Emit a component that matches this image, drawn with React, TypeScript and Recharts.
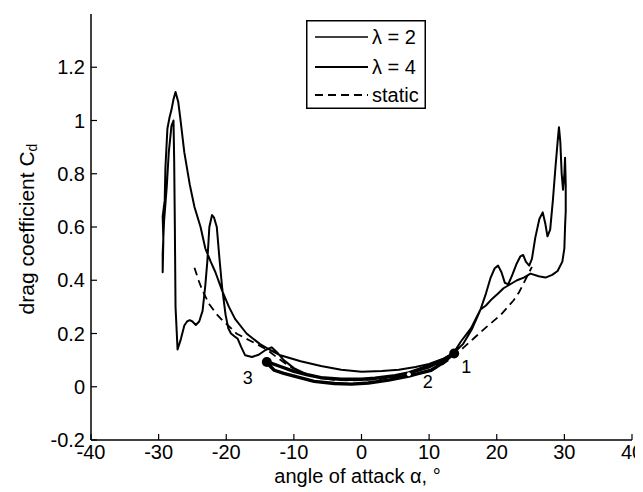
import { ComposedChart, Line, Scatter, XAxis, YAxis, Legend } from 'recharts'

const FONT = '"Liberation Sans", Arial, Helvetica, sans-serif'

const X_TICKS = [-40, -30, -20, -10, 0, 10, 20, 30, 40]
const Y_TICKS = [-0.2, 0, 0.2, 0.4, 0.6, 0.8, 1, 1.2]

// lambda = 2: full hysteresis cycle, alpha 0 -> 30 -> 0 -> -30 -> 0
const LAMBDA2: [number, number][] = [
  [0, 0.056], [3, 0.059], [5.5, 0.064], [8, 0.074], [10, 0.086], [12, 0.104], [13.7, 0.128],
  [15, 0.16], [16.3, 0.215], [17.6, 0.29], [18.4, 0.35], [19.1, 0.41], [19.7, 0.445],
  [20.2, 0.455], [20.7, 0.43], [21.2, 0.39], [21.7, 0.385], [22.3, 0.42], [22.9, 0.46],
  [23.5, 0.49], [23.9, 0.495], [24.3, 0.47], [24.8, 0.455], [25.2, 0.48], [25.7, 0.56],
  [26.3, 0.63], [26.8, 0.655], [27.2, 0.61], [27.5, 0.565], [27.9, 0.59], [28.3, 0.7],
  [28.7, 0.83], [29.0, 0.92], [29.2, 0.975], [29.4, 0.92], [29.6, 0.8], [29.8, 0.74],
  [30.0, 0.8], [30.1, 0.86], [30.2, 0.76], [30.2, 0.66], [30.1, 0.6], [30.0, 0.52],
  [29.7, 0.47], [29.0, 0.435], [28.2, 0.42], [27.2, 0.41], [26.2, 0.415], [25.0, 0.425],
  [24.0, 0.41], [23.0, 0.4], [22.0, 0.385], [21.0, 0.37], [20.2, 0.35], [19.3, 0.33],
  [18.4, 0.305], [17.6, 0.29], [16.2, 0.22], [14.7, 0.17], [13.7, 0.13], [12, 0.1],
  [10, 0.072], [7, 0.05], [4, 0.036], [1, 0.03], [-2, 0.027], [-5, 0.03], [-8, 0.045],
  [-10, 0.07], [-11.5, 0.1], [-12.5, 0.13], [-13.3, 0.148], [-14.2, 0.138], [-15.2, 0.12],
  [-16.2, 0.112], [-17.2, 0.118], [-17.8, 0.15], [-18.3, 0.18], [-18.8, 0.19], [-19.3, 0.2],
  [-19.7, 0.22], [-20.1, 0.27], [-20.6, 0.37], [-21, 0.48], [-21.4, 0.6], [-21.8, 0.635],
  [-22.1, 0.645], [-22.5, 0.6], [-22.8, 0.47], [-23.1, 0.38], [-23.5, 0.285], [-24, 0.245],
  [-24.5, 0.232], [-25, 0.245], [-25.4, 0.25], [-25.8, 0.245], [-26.2, 0.23], [-26.7, 0.18],
  [-27.2, 0.14], [-27.5, 0.3], [-27.6, 0.6], [-27.7, 0.85], [-27.8, 1.0], [-28.1, 0.98],
  [-28.5, 0.88], [-28.8, 0.75], [-29.2, 0.62], [-29.4, 0.5], [-29.4, 0.43], [-29.3, 0.55],
  [-29.4, 0.64], [-29.1, 0.7], [-29.0, 0.82], [-28.7, 0.97], [-28.4, 1.01], [-28.1, 1.04],
  [-27.8, 1.08], [-27.5, 1.107], [-27.1, 1.07], [-26.8, 1.01], [-26.2, 0.88], [-25.4, 0.76],
  [-24.7, 0.675], [-23.8, 0.6], [-23.1, 0.52], [-22.3, 0.47], [-21.6, 0.43], [-20.6, 0.36],
  [-19.6, 0.3], [-18.7, 0.255], [-17, 0.2], [-15, 0.16], [-13.5, 0.138], [-12, 0.118],
  [-9, 0.096], [-6, 0.078], [-3, 0.064], [0, 0.056],
]

// lambda = 4: small loop between points 1 and 3
const LAMBDA4: [number, number][] = [
  [13.7, 0.125], [12, 0.1], [10.3, 0.082], [8.5, 0.065], [7, 0.052], [5, 0.042], [2, 0.032],
  [0, 0.028], [-3, 0.028], [-6, 0.034], [-8, 0.045], [-10, 0.058], [-12, 0.076], [-13.3, 0.088],
  [-14, 0.093], [-13.6, 0.08], [-12.9, 0.062], [-11.5, 0.05], [-9.4, 0.036], [-7, 0.02],
  [-4, 0.012], [-1.5, 0.01], [1, 0.014], [4, 0.025], [7, 0.04], [8.5, 0.05], [10.3, 0.062],
  [12, 0.09], [13.7, 0.125],
]

const STATIC: [number, number][] = [
  [-24.7, 0.447], [-24.1, 0.4], [-23.5, 0.36], [-22.5, 0.31], [-21.5, 0.275], [-20.6, 0.25],
  [-19.5, 0.225], [-18.5, 0.2], [-17, 0.18], [-15.5, 0.16], [-14, 0.14], [-12.5, 0.11],
  [-11, 0.083], [-9.5, 0.06], [-8, 0.045], [-6, 0.033], [-4, 0.026], [-2, 0.024], [0, 0.025],
  [2, 0.028], [4, 0.032], [6, 0.04], [8, 0.048], [9.5, 0.056], [10.8, 0.068], [12, 0.085],
  [13.7, 0.115], [15, 0.145], [16.7, 0.184], [18.5, 0.225], [20.6, 0.27], [22.5, 0.325],
  [23.3, 0.355], [24, 0.39], [24.7, 0.425], [25.2, 0.45],
]

const MARKER_LABELS = ['1', '2', '3']
const MARKER_ALPHA = [13.7, 7, -14]
const MARKER_CD = [0.125, 0.047, 0.093]

const toPoints = (pts: [number, number][]) => pts.map(([alpha, cd]) => ({ alpha, cd }))

const lam2Data = toPoints(LAMBDA2)
const lam4Data = toPoints(LAMBDA4)
const staticData = toPoints(STATIC)
const markerData = MARKER_LABELS.map((label, i) => ({ label, alpha: MARKER_ALPHA[i], cd: MARKER_CD[i] }))

// where the number sits relative to its dot
const LABEL_OFFSET: Record<string, [number, number]> = {
  '1': [12, 14],
  '2': [19, 8],
  '3': [-19, 16],
}

const fmtY = (v: number) => String(Math.round(v * 10) / 10)

const renderMarker = (props: any) => {
  const { cx, cy, payload } = props
  const [dx, dy] = LABEL_OFFSET[payload.label]
  const open = payload.label === '2'
  return (
    <g>
      <circle cx={cx} cy={cy} r={open ? 2 : 5} fill={open ? '#fff' : '#000'} />
      <text
        x={cx + dx}
        y={cy + dy}
        textAnchor="middle"
        dominantBaseline="central"
        fontSize={18}
        fontFamily={FONT}
        fill="#000"
      >
        {payload.label}
      </text>
    </g>
  )
}

const LegendBox = () => {
  const rows = [
    { name: 'λ = 2', y: 17, width: 1.6, dash: undefined },
    { name: 'λ = 4', y: 47, width: 2, dash: undefined },
    { name: 'static', y: 75, width: 1.8, dash: '8 5' },
  ]
  return (
    <svg width={120} height={89} style={{ display: 'block' }}>
      <rect x={0.75} y={0.75} width={118.5} height={87.5} fill="#fff" stroke="#000" strokeWidth={1.5} />
      {rows.map((r) => (
        <g key={r.name}>
          <line x1={9} x2={62} y1={r.y} y2={r.y} stroke="#000" strokeWidth={r.width} strokeDasharray={r.dash} />
          <text x={66} y={r.y} dominantBaseline="central" fontSize={20} fontFamily={FONT} fill="#000">
            {r.name}
          </text>
        </g>
      ))}
    </svg>
  )
}

const YLabel = (props: any) => {
  const { viewBox } = props
  const x = viewBox.x - 5
  const y = 221
  return (
    <text
      x={x}
      y={y}
      transform={`rotate(-90, ${x}, ${y})`}
      textAnchor="middle"
      dominantBaseline="central"
      fontSize={21}
      fontFamily={FONT}
      fill="#000"
    >
      drag coefficient C<tspan fontSize={14} dy={6}>d</tspan>
    </text>
  )
}

const XLabel = (props: any) => {
  const { viewBox } = props
  return (
    <text
      x={viewBox.x + viewBox.width / 2 - 4}
      y={475}
      textAnchor="middle"
      fontSize={20}
      fontFamily={FONT}
      fill="#000"
    >
      angle of attack α, °
    </text>
  )
}

const tickStyle = { fontSize: 20, fontFamily: FONT, fill: '#000' }
const axisLine = { stroke: '#000', strokeWidth: 1.5 }
const tickLine = { stroke: '#000', strokeWidth: 1.2 }

export default function App() {
  return (
    <ComposedChart width={635} height={484} margin={{ top: 6, right: 11, left: 23, bottom: 8 }}>
      <XAxis
        dataKey="alpha"
        type="number"
        domain={[-40, 40]}
        ticks={X_TICKS}
        interval={0}
        allowDataOverflow
        height={44}
        tick={tickStyle}
        tickSize={-6}
        tickMargin={11}
        axisLine={axisLine}
        tickLine={tickLine}
        label={<XLabel />}
      />
      <XAxis
        xAxisId="top"
        orientation="top"
        type="number"
        domain={[-40, 40]}
        ticks={X_TICKS}
        interval={0}
        allowDataOverflow
        height={0}
        tick={() => <g />}
        tickSize={-6}
        axisLine={axisLine}
        tickLine={tickLine}
      />
      <YAxis
        dataKey="cd"
        type="number"
        domain={[-0.2, 1.4]}
        ticks={Y_TICKS}
        interval={0}
        allowDataOverflow
        width={60}
        tick={tickStyle}
        tickFormatter={fmtY}
        tickSize={-6}
        tickMargin={12}
        axisLine={axisLine}
        tickLine={tickLine}
        label={<YLabel />}
      />
      <YAxis
        yAxisId="right"
        orientation="right"
        type="number"
        domain={[-0.2, 1.4]}
        ticks={Y_TICKS}
        interval={0}
        allowDataOverflow
        width={0}
        tick={() => <g />}
        tickSize={-6}
        axisLine={axisLine}
        tickLine={tickLine}
      />
      <Legend
        layout="horizontal"
        verticalAlign="middle"
        align="center"
        wrapperStyle={{ left: 298, top: 12, width: 120, height: 89 }}
        content={<LegendBox />}
      />
      <Line
        data={staticData}
        dataKey="cd"
        name="static"
        type="linear"
        stroke="#000"
        strokeWidth={1.8}
        strokeDasharray="8 5"
        dot={false}
        isAnimationActive={false}
      />
      <Line
        data={lam2Data}
        dataKey="cd"
        name="λ = 2"
        type="linear"
        stroke="#000"
        strokeWidth={2}
        strokeLinejoin="round"
        dot={false}
        isAnimationActive={false}
      />
      <Line
        data={lam4Data}
        dataKey="cd"
        name="λ = 4"
        type="linear"
        stroke="#000"
        strokeWidth={3.4}
        strokeLinejoin="round"
        dot={false}
        isAnimationActive={false}
      />
      <Scatter
        data={markerData}
        dataKey="cd"
        shape={renderMarker}
        legendType="none"
        isAnimationActive={false}
      />
    </ComposedChart>
  )
}
